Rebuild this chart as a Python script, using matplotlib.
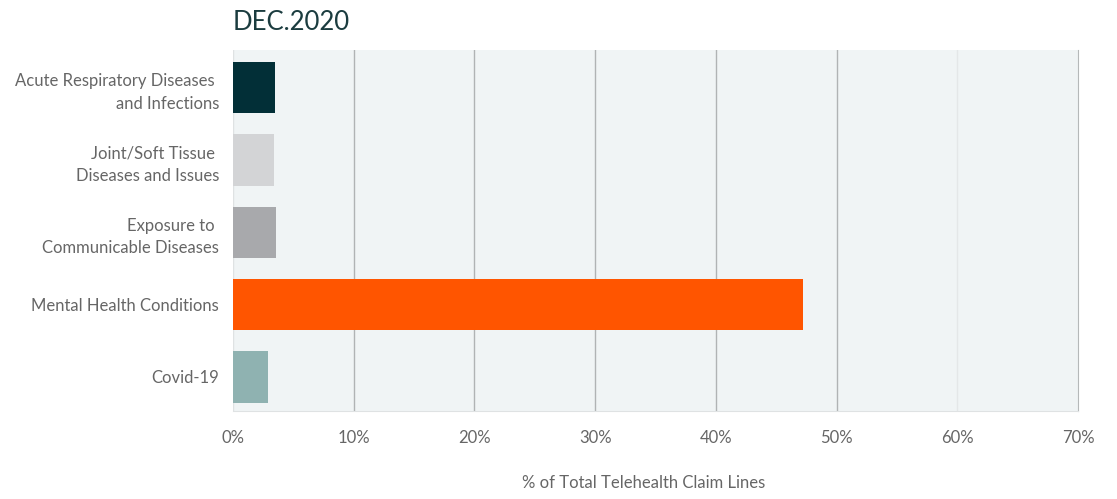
import matplotlib.pyplot as plt
import numpy as np

categories = ["Acute Respiratory Diseases \nand Infections",
              "Joint/Soft Tissue \nDiseases and Issues",
              "Exposure to \nCommunicable Diseases",
              "Mental Health Conditions",
              "Covid-19"]
values = [3.5, 3.4, 3.6, 47.2, 2.9]
colors = ["#022f37", "#d3d4d6", "#a8a9ac", "#ff5500", "#8fb2b1"]
xticks = [0, 10, 20, 30, 40, 50, 60, 70]

plt.rcParams['font.family'] = ['Lato', 'DejaVu Sans']

fig = plt.figure(figsize=(11.17, 4.99), dpi=100)
ax = fig.add_axes([0.2086, 0.1764, 0.7565, 0.7234])
ax.set_facecolor("#f0f4f5")

y = np.arange(len(categories))
ax.barh(y, values, height=0.71, color=colors, zorder=3)

ax.set_xlim(0, 70)
ax.set_ylim(4.47, -0.52)
ax.set_yticks(y)
ax.set_yticklabels(categories, fontsize=12, color="#666666", linespacing=1.5)
ax.set_xticks(xticks)
ax.set_xticklabels([f"{t}%" for t in xticks], fontsize=12, color="#666666")
ax.tick_params(length=0)
ax.tick_params(axis='y', pad=10)
ax.tick_params(axis='x', pad=14)

for t in xticks[1:6]:
    ax.axvline(t, color="#b0b3b4", lw=1, zorder=1)
ax.axvline(60, color="#e4e7e8", lw=1, zorder=1)
ax.axvline(0, color="#dfe2e3", lw=1, zorder=1)

for s in ["top", "left"]:
    ax.spines[s].set_visible(False)
ax.spines["right"].set_color("#b5b8b9")
ax.spines["bottom"].set_color("#dfe2e3")

ax.set_xlabel("% of Total Telehealth Claim Lines", fontsize=12,
              color="#666666", labelpad=24)
ax.xaxis.set_label_coords(0.486, -0.2)
ax.xaxis.label.set_va("center")
fig.text(0.2086, 0.955, "DEC.2020", fontsize=18.5, color="#1b3c3f",
         va="center", ha="left")

fig.savefig("out.png", dpi=100)
